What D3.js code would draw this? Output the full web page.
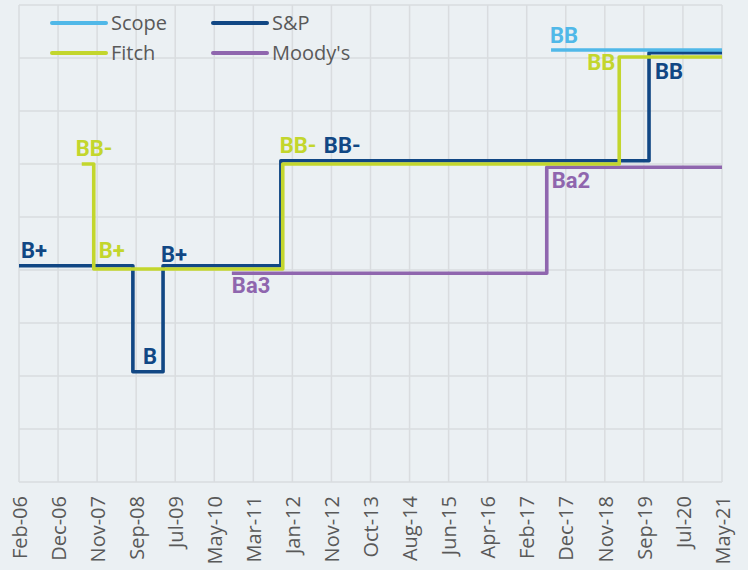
<!DOCTYPE html>
<html>
<head>
<meta charset="utf-8">
<script src="https://cdn.jsdelivr.net/npm/d3@7"></script>
<style>
  html, body { margin: 0; padding: 0; background: #ebf0f3; }
  svg { display: block; }
  .tick-label { font-family: "Open Sans", sans-serif; font-size: 20px; fill: #595959; }
  .legend-label { font-family: "Open Sans", sans-serif; font-size: 20px; fill: #595959; }
  .rating-label { font-family: Roboto, sans-serif; font-size: 22px; font-weight: bold; }
</style>
</head>
<body>
<div id="chart"></div>
<script>
// x axis tick labels, evenly spaced across the date range
const tickLabels = ['Feb-06', 'Dec-06', 'Nov-07', 'Sep-08', 'Jul-09', 'May-10', 'Mar-11', 'Jan-12', 'Nov-12',
                    'Oct-13', 'Aug-14', 'Jun-15', 'Apr-16', 'Feb-17', 'Dec-17', 'Nov-18', 'Sep-19', 'Jul-20', 'May-21']
const dateRange = ['2006-02-15', '2021-05-15']

// rating history, one step per change (value scale: B=2, B+=4, BB-=6, BB=8)
const spDates = ['2006-02-15', '2008-08-05', '2009-04-01', '2011-10-21', '2019-10-15', '2021-05-15']
const spValues = [4.08, 2.08, 4.08, 6.06, 8.1, 8.1]
const fitchDates = ['2007-06-27', '2007-09-30', '2011-11-05', '2019-02-21', '2021-05-15']
const fitchValues = [6.0, 4.02, 6.0, 8.02, 8.02]
const moodysDates = ['2010-09-28', '2017-07-27', '2021-05-15']
const moodysValues = [3.94, 5.94, 5.94]
const scopeDates = ['2017-08-30', '2021-05-15']
const scopeValues = [8.15, 8.15]

const width = 748, height = 570
const margin = {top: 5, right: 26, bottom: 88, left: 19}
const parse = d3.timeParse('%Y-%m-%d')

const series = [
  {name: 'Moody\'s', color: '#8f66ae', dates: moodysDates, values: moodysValues},
  {name: 'S&P', color: '#114784', dates: spDates, values: spValues},
  {name: 'Fitch', color: '#c3d62d', dates: fitchDates, values: fitchValues},
  {name: 'Scope', color: '#50b8e8', dates: scopeDates, values: scopeValues},
]
const byName = {}
series.forEach(s => {
  s.points = s.dates.map((d, i) => ({date: parse(d), value: s.values[i]}))
  byName[s.name] = s
})

// rating annotations: attached to a point of a series, nudged by dx/dy
const annotations = [
  {series: 'Fitch', point: 0, text: 'BB-', dx: -6, dy: -8},
  {series: 'S&P', point: 0, text: 'B+', dx: 2, dy: -8},
  {series: 'Fitch', point: 1, text: 'B+', dx: 5, dy: -11},
  {series: 'S&P', point: 2, text: 'B+', dx: -2, dy: -4},
  {series: 'S&P', point: 1, text: 'B', dx: 10, dy: -8},
  {series: 'Moody\'s', point: 0, text: 'Ba3', dx: 0, dy: 20},
  {series: 'Fitch', point: 2, text: 'BB-', dx: -3, dy: -11},
  {series: 'S&P', point: 3, text: 'BB-', dx: 43, dy: -8},
  {series: 'Scope', point: 0, text: 'BB', dx: -1, dy: -7},
  {series: 'Fitch', point: 3, text: 'BB', dx: -32, dy: 13},
  {series: 'S&P', point: 4, text: 'BB', dx: 6, dy: 26},
  {series: 'Moody\'s', point: 1, text: 'Ba2', dx: 5, dy: 21},
]

const svg = d3.select('#chart').append('svg')
  .attr('width', width)
  .attr('height', height)

const x = d3.scaleTime()
  .domain(dateRange.map(parse))
  .range([margin.left, width - margin.right])
const xTicks = d3.scalePoint()
  .domain(tickLabels)
  .range(x.range())
const y = d3.scaleLinear()
  .domain([0, 9])
  .range([height - margin.bottom, margin.top])

// grid
const grid = svg.append('g').attr('stroke', '#d9dcdf').attr('stroke-width', 1.5)
grid.selectAll('.vgrid')
  .data(tickLabels)
  .join('line')
    .attr('x1', d => xTicks(d)).attr('x2', d => xTicks(d))
    .attr('y1', y(0)).attr('y2', y(9))
grid.selectAll('.hgrid')
  .data(d3.range(0, 10))
  .join('line')
    .attr('x1', x.range()[0]).attr('x2', x.range()[1])
    .attr('y1', d => y(d)).attr('y2', d => y(d))

// x axis labels
const xAxis = svg.append('g')
  .attr('transform', `translate(0,${y(0)})`)
  .call(d3.axisBottom(xTicks).tickSize(0).tickPadding(0))
xAxis.select('.domain').remove()
xAxis.selectAll('.tick text')
  .attr('class', 'tick-label')
  .attr('transform', 'rotate(-90)')
  .attr('text-anchor', 'end')
  .attr('x', -14)
  .attr('y', 0)
  .attr('dy', '0.36em')
  .attr('font-size', null)
  .attr('font-family', null)
  .attr('fill', null)

// step lines
const line = d3.line()
  .x(d => x(d.date))
  .y(d => y(d.value))
  .curve(d3.curveStepAfter)

svg.append('g').selectAll('path')
  .data(series)
  .join('path')
    .attr('fill', 'none')
    .attr('stroke', d => d.color)
    .attr('stroke-width', 3.6)
    .attr('stroke-linejoin', 'round')
    .attr('d', d => line(d.points))

svg.append('g').selectAll('text')
  .data(annotations)
  .join('text')
    .attr('class', 'rating-label')
    .attr('fill', d => byName[d.series].color)
    .attr('x', d => x(byName[d.series].points[d.point].date) + d.dx)
    .attr('y', d => y(byName[d.series].points[d.point].value) + d.dy)
    .text(d => d.text)

// legend
const legendItems = [
  {name: 'Scope', col: 0, row: 0},
  {name: 'S&P', col: 1, row: 0},
  {name: 'Fitch', col: 0, row: 1},
  {name: 'Moody\'s', col: 1, row: 1},
]
const legend = svg.append('g')
const item = legend.selectAll('g')
  .data(legendItems)
  .join('g')
    .attr('transform', d => `translate(${52 + d.col * 161},${23 + d.row * 30})`)
item.append('line')
  .attr('x1', 0).attr('x2', 54)
  .attr('stroke', d => byName[d.name].color)
  .attr('stroke-width', 4)
  .attr('stroke-linecap', 'round')
item.append('text')
  .attr('class', 'legend-label')
  .attr('x', 59)
  .attr('y', 7)
  .text(d => d.name)
</script>
</body>
</html>
